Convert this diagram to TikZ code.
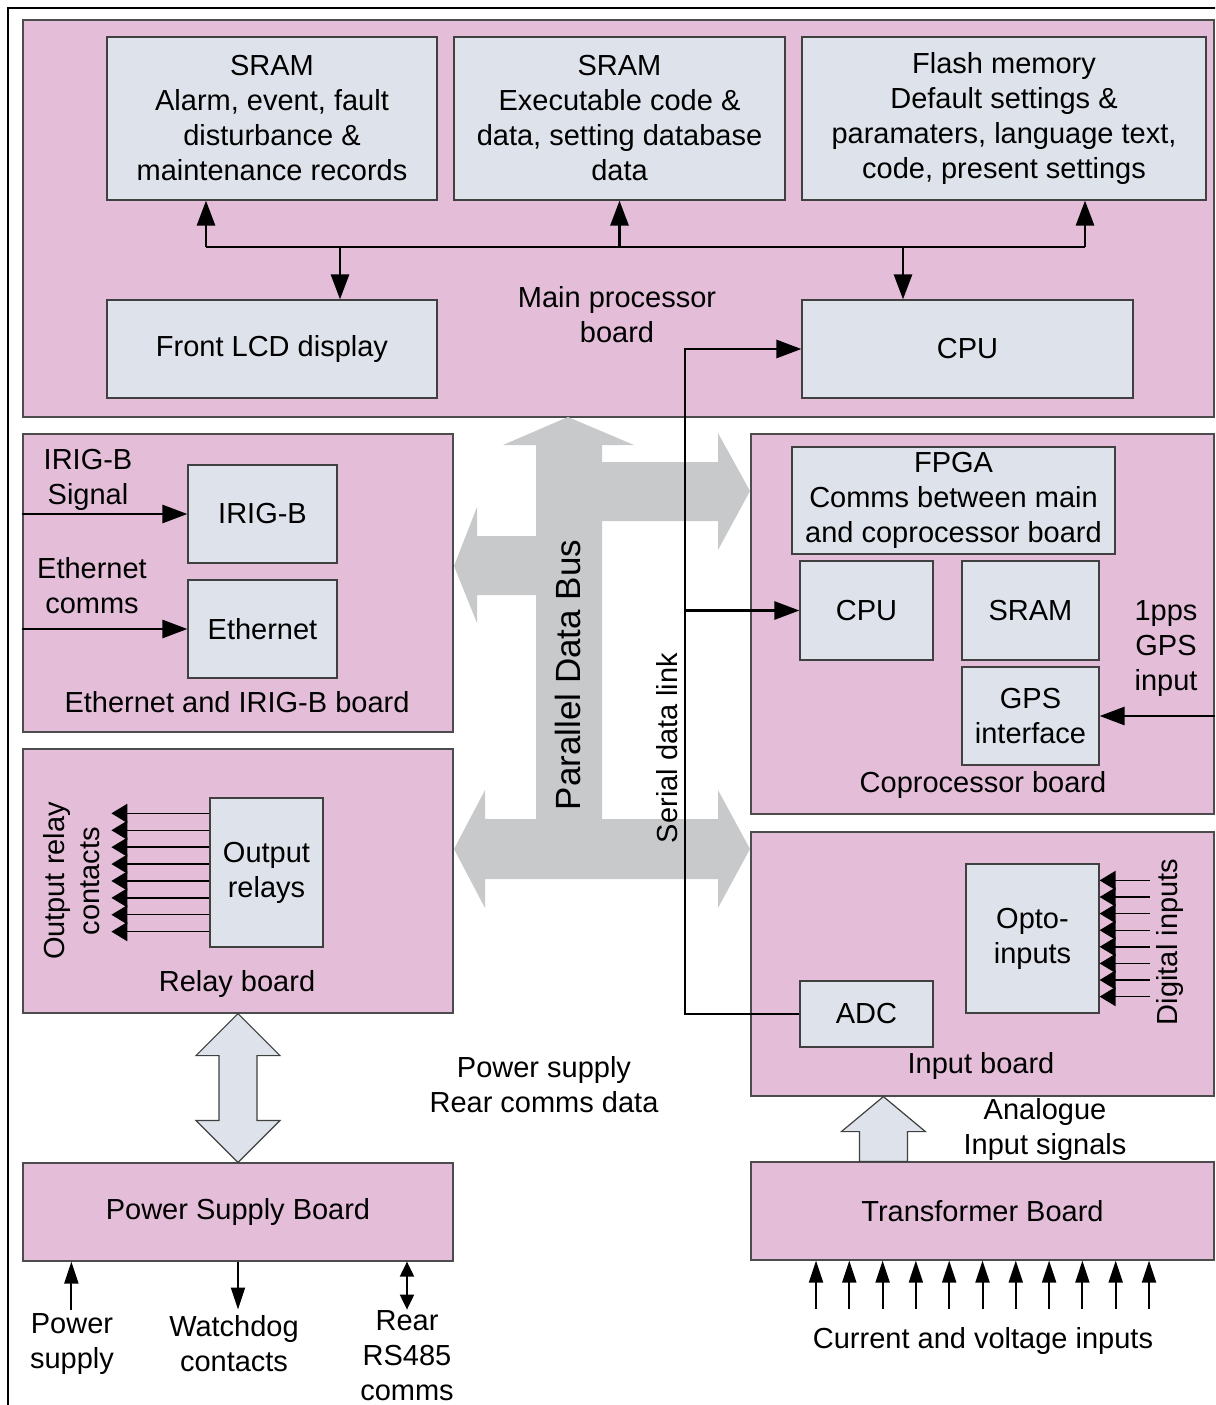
\documentclass[tikz,border=0pt]{standalone}
\usepackage{fontspec}
\setmainfont{Liberation Sans}
\usetikzlibrary{arrows.meta,calc}

\definecolor{boardpink}{RGB}{228,190,217}
\definecolor{boxgrey}{RGB}{222,226,234}
\definecolor{busgrey}{RGB}{200,201,203}

\tikzset{
  board/.style={draw=black!70, fill=boardpink, line width=1.2pt, inner sep=0pt},
  unit/.style={draw=black!75, fill=boxgrey, line width=1.2pt, align=center, inner sep=0pt},
  txt/.style={align=center, inner sep=0pt},
  link/.style={line width=2.8pt},
  bigtip/.style={-{Triangle[length=25pt,width=18pt]}},
  wire/.style={line width=1.4pt, -{Triangle[length=16pt,width=19pt]}},
  hollow/.style={draw=black!75, fill=boxgrey, line width=1.2pt}
}

\begin{document}
\begin{tikzpicture}[x=1pt, y=-1pt, font=\fontsize{29}{35}\selectfont]
\useasboundingbox (0,0) rectangle (1215,1405);
\clip (0,0) rectangle (1215,1405);
\draw[line width=1.2pt] (8,1420) -- (8,8) -- (1230,8);

% boards
\node[board, minimum width=1191, minimum height=397] (mainb) at (618.5,218.5) {};
\node[board, minimum width=430, minimum height=298] (ethb) at (238,583) {};
\node[board, minimum width=430, minimum height=264] (relb) at (238,881) {};
\node[board, minimum width=463, minimum height=380] (copb) at (982.5,624) {};
\node[board, minimum width=463, minimum height=264] (inb) at (982.5,964) {};
\node[board, minimum width=430, minimum height=98] (psu) at (238,1212) {Power Supply Board};
\node[board, minimum width=463, minimum height=98] (trafo) at (982.5,1211) {Transformer Board};

% parallel data bus
\fill[busgrey] (568,417) -- (634,445) -- (602,445) -- (602,462) -- (718,462) -- (718,433)
  -- (750,491) -- (718,550) -- (718,521) -- (602,521) -- (602,819) -- (718,819) -- (718,790)
  -- (750,849) -- (718,908) -- (718,879) -- (485,879) -- (485,908) -- (454,849) -- (485,790)
  -- (485,819) -- (536,819) -- (536,595) -- (477,595) -- (477,623) -- (454,566) -- (477,507)
  -- (477,536) -- (536,536) -- (536,445) -- (503,445) -- cycle;
\node[txt, rotate=90, font=\fontsize{35}{42}\selectfont] (pdb) at (568,675) {Parallel Data Bus};
\node[txt, rotate=90] (sdl) at (667,748) {Serial data link};

% main processor board
\node[unit, minimum width=330, minimum height=163] (sram1) at (272,118.5)
  {SRAM\\Alarm, event, fault\\disturbance \&\\maintenance records};
\node[unit, minimum width=331, minimum height=163] (sram2) at (619.5,118.5)
  {SRAM\\Executable code \&\\data, setting database\\data};
\node[unit, minimum width=404, minimum height=163] (flash) at (1004,118.5)
  {Flash memory\\Default settings \&\\paramaters, language text,\\code, present settings};
\node[unit, minimum width=330, minimum height=98] (lcd) at (272,349) {Front LCD display};
\node[unit, minimum width=331, minimum height=98] (cpu) at (967.5,349) {CPU};
\node[txt] (mainl) at (617,315) {Main processor\\board};

\coordinate (bl) at (206,247);
\coordinate (br) at (1085,247);
\draw[link] (bl) -- (br);
\draw[link, bigtip] (bl) -- (bl |- sram1.south);
\draw[link, bigtip] (sram2.south |- bl) -- (sram2.south);
\draw[link, bigtip] (br) -- (br |- flash.south);
\draw[link, bigtip] (340,247) -- (340,0 |- lcd.north);
\draw[link, bigtip] (903,247) -- (903,0 |- cpu.north);

% ethernet and irig-b board
\node[unit, minimum width=149, minimum height=98] (irig) at (262.5,514) {IRIG-B};
\node[unit, minimum width=149, minimum height=98] (eth) at (262.5,629) {Ethernet};
\node[txt] (irigl) at (88,480) {IRIG-B\\Signal};
\node[txt] (ethl) at (92,586) {Ethernet\\comms};
\node[txt] (ethbl) at (237,702) {Ethernet and IRIG-B board};
\draw[link, bigtip] (irig.west -| ethb.west) -- (irig.west);
\draw[link, bigtip] (eth.west -| ethb.west) -- (eth.west);

% relay board
\node[unit, minimum width=113, minimum height=149] (orel) at (266.5,872.5) {Output\\relays};
\foreach \i in {0,...,7}
  \draw[wire] ($(orel.west)+(0,{(\i-3.5)*16.9})$) -- ++(-98,0);
\node[txt, rotate=90] (orell) at (72,881) {Output relay\\contacts};
\node[txt] (relbl) at (237,984) {Relay board};

% coprocessor board
\node[unit, minimum width=323, minimum height=107] (fpga) at (953.5,500.5)
  {FPGA\\Comms between main\\and coprocessor board};
\node[unit, minimum width=133, minimum height=99] (ccpu) at (866.5,610.5) {CPU};
\node[unit, minimum width=137, minimum height=99] (csram) at (1030.5,610.5) {SRAM};
\node[unit, minimum width=137, minimum height=98] (gps) at (1030.5,716) {GPS\\interface};
\node[txt] (gpsl) at (1166,649) {1pps\\GPS\\input};
\node[txt] (copbl) at (983,785) {Coprocessor board};
\draw[link, bigtip] (gps.east -| copb.east) -- (gps.east);

% input board
\node[unit, minimum width=133, minimum height=149] (opto) at (1032.5,938.5) {Opto-\\inputs};
\node[unit, minimum width=133, minimum height=66] (adc) at (866.5,1014) {ADC};
\foreach \i in {0,...,7}
  \draw[wire] ($(opto.east)+(50,{(\i-3.5)*16.6})$) -- ++(-50,0);
\node[txt, rotate=90] (digl) at (1170,942) {Digital inputs};
\node[txt] (inbl) at (981,1066) {Input board};

% serial data link
\coordinate (sd) at (685,349);
\draw[link, bigtip] (adc.west) -| (sd) -- (cpu.west);
\draw[link, bigtip] (sd |- ccpu.west) -- (ccpu.west);

% power supply and transformer
\draw[hollow] (relb.south) -- ++(42,42) -- ++(-23,0) -- ($(psu.north)+(19,-42)$) -- ++(23,0)
  -- (psu.north) -- ++(-42,-42) -- ++(23,0) -- ($(relb.south)+(-19,42)$) -- ++(-23,0) -- cycle;
\coordinate (anab) at ($(trafo.north west)+(133,0)$);
\coordinate (anat) at (anab |- inb.south);
\draw[hollow] (anat) -- ++(42,35) -- ++(-18,0) -- ($(anab)+(24,0)$) -- ($(anab)+(-24,0)$)
  -- ($(anat)+(-24,35)$) -- ++(-18,0) -- cycle;
\node[txt] (psdl) at (544,1085) {Power supply\\Rear comms data};
\node[txt] (anal) at (1045,1129) {Analogue\\Input signals};

\draw[line width=2pt, -{Triangle[length=22pt,width=14pt]}] ($(psu.south west)+(49,48)$) -- ($(psu.south west)+(49,0)$);
\draw[line width=2pt, -{Triangle[length=22pt,width=14pt]}] (psu.south) -- ++(0,48);
\draw[line width=2pt, {Triangle[length=15pt,width=14pt]}-{Triangle[length=15pt,width=14pt]}] ($(psu.south)+(169,0)$) -- ++(0,48);
\node[txt] (psl) at (72,1344) {Power\\supply};
\node[txt] (wdl) at (234,1344) {Watchdog\\contacts};
\node[txt] (rsl) at (407,1356) {Rear\\RS485\\comms};

\foreach \i in {0,...,10}
  \draw[line width=2pt, -{Triangle[length=22pt,width=14pt]}] ($(trafo.south)+({(\i-5)*33.3},48)$) -- ++(0,-48);
\node[txt] (cvl) at (983,1341) {Current and voltage inputs};
\end{tikzpicture}
\end{document}
